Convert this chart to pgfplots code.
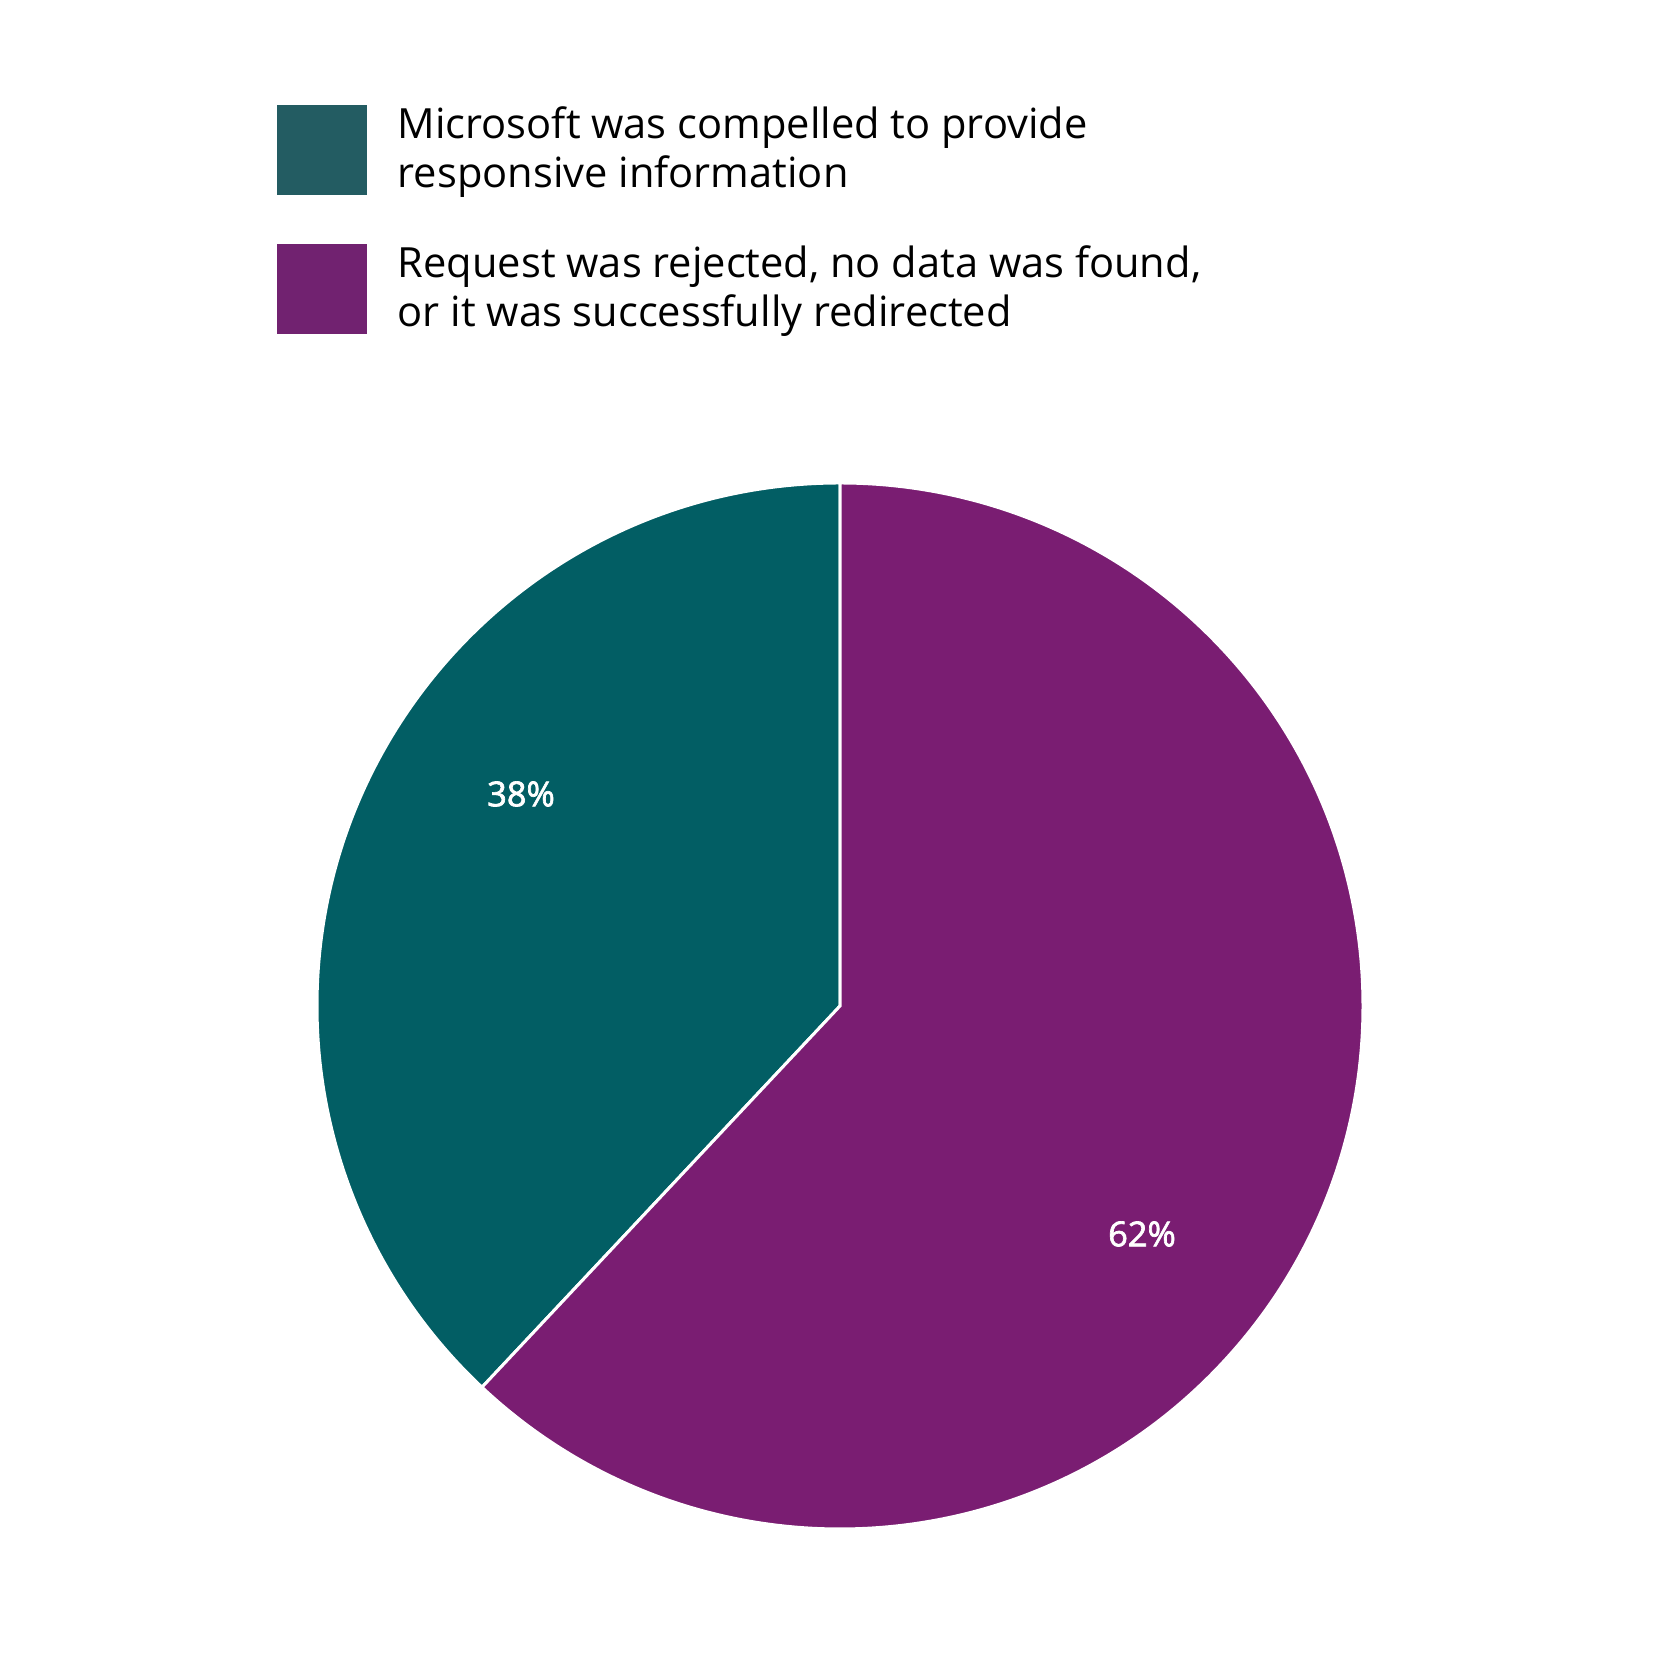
\documentclass[border=0pt]{standalone}
\usepackage{fontspec}
\setmainfont{Open Sans}
\newfontfamily\semibold{Open Sans}[FakeBold=2]
\usepackage{pgfplots}
\usepackage{pgfplotstable}
\pgfplotsset{compat=1.18}
\definecolor{tealslice}{HTML}{025E64}
\definecolor{purpleslice}{HTML}{7A1D72}
\definecolor{teallegend}{HTML}{235C62}
\definecolor{purplelegend}{HTML}{712270}

% shares in percent, in drawing order (counter-clockwise from the top)
\pgfplotstableread{
share
38
62
}\piedata

\begin{document}
\begin{tikzpicture}
\pgfplotstablegetelem{0}{share}\of\piedata \let\shareA\pgfplotsretval
\pgfplotstablegetelem{1}{share}\of\piedata \let\shareB\pgfplotsretval
\pgfmathsetmacro\angA{90+3.6*\shareA}
\pgfmathsetmacro\angB{\angA+3.6*\shareB}
\def\rad{130.75pt}
\begin{axis}[
    width=417pt, height=417pt,
    scale only axis,
    xmin=0, xmax=1668, ymin=0, ymax=1668,
    hide axis, clip=false,
]
\path (axis cs:0,0) rectangle (axis cs:1668,1668);
% pie slices
\fill[tealslice, draw=white, line width=0.75pt]
    (axis cs:840,662) -- ++(90:\rad) arc[start angle=90, end angle=\angA, radius=\rad] -- cycle;
\fill[purpleslice, draw=white, line width=0.75pt]
    (axis cs:840,662) -- ++(\angA:\rad) arc[start angle=\angA, end angle=\angB, radius=\rad] -- cycle;
% slice labels
\node[white, font=\semibold\fontsize{8.6}{10}\selectfont] at (axis cs:521,874) {\shareA\%};
\node[white, font=\semibold\fontsize{8.6}{10}\selectfont] at (axis cs:1142,434) {\shareB\%};
% legend
\fill[teallegend] (axis cs:277,1563) rectangle (axis cs:367,1473);
\fill[purplelegend] (axis cs:277,1424) rectangle (axis cs:367,1334);
\begin{scope}[every node/.style={anchor=base west, inner sep=0pt, font=\fontsize{10.4}{12}\selectfont}]
\node at (axis cs:397,1529) {Microsoft was compelled to provide};
\node at (axis cs:397,1480) {responsive information};
\node at (axis cs:397,1390) {Request was rejected, no data was found,};
\node at (axis cs:397,1341) {or it was successfully redirected};
\end{scope}
\end{axis}
\end{tikzpicture}
\end{document}
